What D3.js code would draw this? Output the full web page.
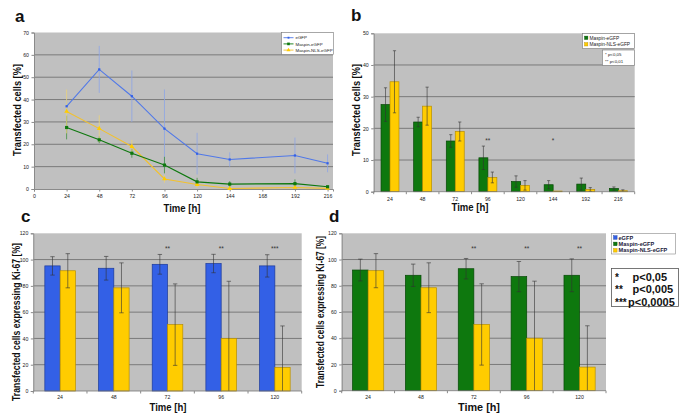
<!DOCTYPE html>
<html><head><meta charset="utf-8">
<script src="https://cdn.jsdelivr.net/npm/d3@7"></script>
<style>body{margin:0;background:#fff}svg{display:block}text{font-family:"Liberation Sans",Arial,sans-serif}</style>
</head><body>
<svg id="c" width="685" height="417"></svg>
<script>
// ---------- data ----------
const timeA = [24, 48, 72, 96, 120, 144, 192, 216];
const egfpA = [37, 53.5, 41.5, 27, 15.8, 13.2, 15, 11.5];
const egfpAErr = [3, 10.5, 11.5, 17.5, 9.3, 3.2, 8, 4];
const maspinA = [27.5, 22, 16, 10.7, 3.2, 2.2, 2.4, 1.0];
const maspinAErr = [5.3, 1.5, 2, 3.7, 1.8, 1.3, 1.9, 0.5];
const nlsA = [34.7, 27, 19, 4.5, 2, 0.2, 0.7, 0.3];
const nlsAErr = [9.8, 6, 3, 1.7, 1.5, 0, 0.6, 0.3];
const xTicksA = [0, 24, 48, 72, 96, 120, 144, 168, 192, 216];
const starsB = ["", "", "", "**", "", "*", "", ""];

const timeK = [24, 48, 72, 96, 120];
const egfpK = [95.2, 93.4, 96.4, 97, 95.2];
const egfpKErr = [7, 9, 7.5, 7, 8.5];
const maspinK = [92, 88, 93, 87, 88];
const maspinKErr = [8.3, 8.5, 7.8, 11.5, 12.5];
const nlsK = [91.5, 78.5, 50.5, 40, 18];
const nlsKErr = [13, 19, 31, 43.5, 31.5];
const starsC = ["", "", "**", "**", "***"];
const starsD = ["", "", "**", "**", "**"];

const seriesNames = ["eGFP", "Maspin-eGFP", "Maspin-NLS-eGFP"];
const pLegendB = ["*  p<0,05", "**  p<0,01"];
const pStars = ["*", "**", "***"];
const pTexts = ["p<0,05", "p<0,005", "p<0,0005"];

// ---------- styles ----------
const C = {
  gray: "#c0c0c0", grid: "#7a7a7a", axis: "#8a8a8a",
  blue: "#3360e6", blueDark: "#1c3a9a", blueLine: "#5078e8", blueErr: "#8da4e6",
  green: "#0e780e", greenDark: "#064806", greenErr: "#3f8f3f",
  yellow: "#ffcc00", yellowDark: "#b89000", yellowLine: "#f2c12e", yellowErr: "#e9d27a",
  text: "#222"
};
const svg = d3.select("#c");

function panelLabel(t, x, y) {
  svg.append("text").attr("x", x).attr("y", y).attr("font-size", 17).attr("font-weight", "bold").attr("fill", "#111").text(t);
}
function title(t, x, y, size, len, rot) {
  const e = svg.append("text").attr("font-size", size).attr("font-weight", "bold").attr("fill", "#111")
    .attr("text-anchor", "middle").attr("textLength", len).attr("lengthAdjust", "spacingAndGlyphs").text(t);
  if (rot) e.attr("transform", `translate(${x},${y}) rotate(-90)`); else e.attr("x", x).attr("y", y);
}

function yAxis(g, y, ticks, x0, x1) {
  g.append("rect").attr("x", x0).attr("y", y.range()[1]).attr("width", x1 - x0).attr("height", y.range()[0] - y.range()[1]).attr("fill", C.gray);
  const top = d3.max(ticks);
  g.selectAll(null).data(ticks.filter(t => t > 0 && t < top)).join("line")
    .attr("x1", x0).attr("x2", x1).attr("y1", d => y(d)).attr("y2", d => y(d))
    .attr("stroke", C.grid).attr("stroke-width", 1);
  const ax = g.append("g").attr("transform", `translate(${x0},0)`)
    .call(d3.axisLeft(y).tickValues(ticks).tickSize(2.5).tickPadding(2.5).tickFormat(d3.format("d")));
  ax.select(".domain").attr("stroke", C.axis);
  ax.selectAll(".tick line").attr("stroke", C.axis);
  ax.selectAll(".tick text").attr("font-size", 5.2).attr("fill", C.text).attr("font-family", "Liberation Sans, Arial");
}

// ---------- panel a ----------
(function () {
  const g = svg.append("g");
  const x = d3.scaleLinear().domain([0, 220]).range([34, 333]);
  const y = d3.scaleLinear().domain([0, 70]).range([189, 32.5]);
  yAxis(g, y, d3.range(0, 71, 10), 34, 333);
  const xa = g.append("g").attr("transform", "translate(0,189)")
    .call(d3.axisBottom(x).tickValues(xTicksA).tickSize(2.5).tickPadding(3));
  xa.select(".domain").attr("stroke", C.axis);
  xa.selectAll(".tick line").attr("stroke", C.axis);
  xa.selectAll(".tick text").attr("font-size", 5.2).attr("fill", C.text);

  const series = [
    { v: egfpA, e: egfpAErr, line: C.blueLine, err: C.blueErr, m: d3.symbolSquare, ms: 5, mc: C.blue },
    { v: maspinA, e: maspinAErr, line: C.green, err: C.greenErr, m: d3.symbolSquare, ms: 10, mc: C.green },
    { v: nlsA, e: nlsAErr, line: C.yellowLine, err: C.yellowErr, m: d3.symbolTriangle, ms: 10, mc: C.yellow }
  ];
  series.forEach(s => {
    timeA.forEach((t, i) => {
      if (!s.e[i]) return;
      g.append("line").attr("x1", x(t)).attr("x2", x(t))
        .attr("y1", y(Math.min(70, s.v[i] + s.e[i]))).attr("y2", y(Math.max(0, s.v[i] - s.e[i])))
        .attr("stroke", s.err).attr("stroke-width", 0.8);
    });
  });
  const line = d3.line().x((d, i) => x(timeA[i])).y(d => y(d));
  series.slice().reverse().forEach(s => {
    g.append("path").attr("d", line(s.v)).attr("fill", "none").attr("stroke", s.line).attr("stroke-width", 1.1);
    g.selectAll(null).data(s.v).join("path")
      .attr("transform", (d, i) => `translate(${x(timeA[i])},${y(d)})`)
      .attr("d", d3.symbol().type(s.m).size(s.ms)).attr("fill", s.mc);
  });
  g.append("rect").attr("x", 281.5).attr("y", 32.5).attr("width", 52).attr("height", 22).attr("fill", "#fff").attr("stroke", "#777").attr("stroke-width", 0.6);
  series.forEach((s, i) => {
    const yy = 37.7 + i * 6.2;
    g.append("line").attr("x1", 283.5).attr("x2", 293.5).attr("y1", yy).attr("y2", yy).attr("stroke", s.line).attr("stroke-width", 0.9);
    g.append("path").attr("transform", `translate(288.5,${yy})`).attr("d", d3.symbol().type(s.m).size(s.ms * 0.7)).attr("fill", s.mc);
    g.append("text").attr("x", 295.5).attr("y", yy + 1.6).attr("font-size", 4.4).attr("fill", C.text).text(seriesNames[i]);
  });
  panelLabel("a", 15, 22);
  title("Transfected cells [%]", 20.5, 110, 11, 92, true);
  title("Time [h]", 182, 212, 10.5, 37, false);
})();

// ---------- generic grouped bar panel ----------
function barPanel(o) {
  const g = svg.append("g");
  const x = d3.scaleBand().domain(o.cats).range([o.x0, o.x1]).paddingInner(o.pad).paddingOuter(o.pad / 2);
  const y = d3.scaleLinear().domain([0, o.ymax]).range([o.yb, o.yt]);
  yAxis(g, y, d3.range(0, o.ymax + 1, o.step), o.x0, o.x1);
  const inner = d3.scaleBand().domain(d3.range(o.series.length)).range([0, x.bandwidth()]);
  o.series.forEach((s, si) => {
    g.selectAll(null).data(s.v).join("rect")
      .attr("x", (d, i) => x(o.cats[i]) + inner(si)).attr("width", inner.bandwidth())
      .attr("y", d => y(d)).attr("height", d => o.yb - y(d))
      .attr("fill", s.fill).attr("stroke", s.stroke).attr("stroke-width", 0.7);
  });
  o.series.forEach((s, si) => {
    s.v.forEach((v, i) => {
      if (!s.e[i]) return;
      const cx = x(o.cats[i]) + inner(si) + inner.bandwidth() / 2;
      const hi = y(Math.min(o.ymax, v + s.e[i])), lo = y(Math.max(0, v - s.e[i]));
      g.append("line").attr("x1", cx).attr("x2", cx).attr("y1", hi).attr("y2", lo).attr("stroke", "#333").attr("stroke-width", 0.6);
      g.append("line").attr("x1", cx - o.cap).attr("x2", cx + o.cap).attr("y1", hi).attr("y2", hi).attr("stroke", "#333").attr("stroke-width", 0.6);
      if (v - s.e[i] > 0)
        g.append("line").attr("x1", cx - o.cap).attr("x2", cx + o.cap).attr("y1", lo).attr("y2", lo).attr("stroke", "#333").attr("stroke-width", 0.6);
    });
  });
  g.append("line").attr("x1", o.x0).attr("x2", o.x1).attr("y1", o.yb).attr("y2", o.yb).attr("stroke", "#777").attr("stroke-width", 0.8);
  const bounds = o.cats.map(c => x(c) - x.step() * o.pad / 2).concat([o.x1]);
  g.selectAll(null).data(bounds).join("line").attr("x1", d => d).attr("x2", d => d)
    .attr("y1", o.yb).attr("y2", o.yb + 2.5).attr("stroke", C.axis);
  g.selectAll(null).data(o.cats).join("text")
    .attr("x", d => x(d) + x.bandwidth() / 2).attr("y", o.yb + o.lab).attr("text-anchor", "middle")
    .attr("font-size", 5.2).attr("fill", C.text).text(d => d);
  g.selectAll(null).data(o.stars).join("text")
    .attr("x", (d, i) => x(o.cats[i]) + x.bandwidth() / 2).attr("y", o.starY).attr("text-anchor", "middle")
    .attr("font-size", 6.5).attr("fill", "#333").text(d => d);
  return g;
}

// ---------- panel b ----------
(function () {
  const g = barPanel({
    cats: timeA, x0: 373.7, x1: 634.7, yb: 191.7, yt: 33.3, ymax: 50, step: 10, pad: 0.45, cap: 1.6, lab: 9.5,
    stars: starsB, starY: 143,
    series: [
      { v: maspinA, e: maspinAErr, fill: C.green, stroke: C.greenDark },
      { v: nlsA, e: nlsAErr, fill: C.yellow, stroke: C.yellowDark }
    ]
  });
  g.append("rect").attr("x", 582.5).attr("y", 33.5).attr("width", 52).attr("height", 15).attr("fill", "#fff").attr("stroke", "#777").attr("stroke-width", 0.6);
  [[C.green, C.greenDark], [C.yellow, C.yellowDark]].forEach((c, i) => {
    const yy = 37.8 + i * 6.5;
    g.append("rect").attr("x", 584.5).attr("y", yy - 1.7).attr("width", 3.4).attr("height", 3.4).attr("fill", c[0]).attr("stroke", c[1]).attr("stroke-width", 0.4);
    g.append("text").attr("x", 589.5).attr("y", yy + 1.7).attr("font-size", 4.8).attr("fill", C.text).text(seriesNames[i + 1]);
  });
  g.append("rect").attr("x", 602.5).attr("y", 50).attr("width", 32).attr("height", 15.5).attr("fill", "#fff").attr("stroke", "#777").attr("stroke-width", 0.6);
  pLegendB.forEach((t, i) => {
    g.append("text").attr("x", 605).attr("y", 56 + i * 6.5).attr("font-size", 4.4).attr("fill", C.text).text(t);
  });
  panelLabel("b", 351, 21);
  title("Transfected cells [%]", 359.5, 110, 11, 92, true);
  title("Time [h]", 470, 211, 10.5, 37, false);
})();

// ---------- panel c ----------
(function () {
  barPanel({
    cats: timeK, x0: 33.3, x1: 301.7, yb: 391, yt: 233.3, ymax: 120, step: 20, pad: 0.43, cap: 2.2, lab: 8,
    stars: starsC, starY: 250.5,
    series: [
      { v: egfpK, e: egfpKErr, fill: C.blue, stroke: C.blueDark },
      { v: nlsK, e: nlsKErr, fill: C.yellow, stroke: C.yellowDark }
    ]
  });
  panelLabel("c", 21, 222);
  title("Transfected cells expressing Ki-67 [%]", 20, 322, 10, 158, true);
  title("Time [h]", 168, 411, 10, 37, false);
})();

// ---------- panel d ----------
(function () {
  const g = barPanel({
    cats: timeK, x0: 341.7, x1: 606, yb: 390.7, yt: 233.3, ymax: 120, step: 20, pad: 0.41, cap: 2.2, lab: 8,
    stars: starsD, starY: 250.5,
    series: [
      { v: maspinK, e: maspinKErr, fill: C.green, stroke: C.greenDark },
      { v: nlsK, e: nlsKErr, fill: C.yellow, stroke: C.yellowDark }
    ]
  });
  g.append("rect").attr("x", 611.5).attr("y", 233.5).attr("width", 64).attr("height", 20.5).attr("fill", "#fff").attr("stroke", "#888").attr("stroke-width", 0.6);
  [[C.blue, C.blueDark], [C.green, C.greenDark], [C.yellow, C.yellowDark]].forEach((c, i) => {
    const yy = 237.5 + i * 6.4;
    g.append("rect").attr("x", 613.5).attr("y", yy - 1.8).attr("width", 3.6).attr("height", 3.6).attr("fill", c[0]).attr("stroke", c[1]).attr("stroke-width", 0.4);
    g.append("text").attr("x", 618.5).attr("y", yy + 2).attr("font-size", 5.6).attr("font-weight", "bold").attr("fill", "#1a1a3a").text(seriesNames[i]);
  });
  g.append("rect").attr("x", 611.5).attr("y", 268.5).attr("width", 67).attr("height", 38).attr("fill", "#fff").attr("stroke", "#555").attr("stroke-width", 0.8);
  pStars.forEach((s, i) => {
    const yy = 281 + i * 12.3;
    g.append("text").attr("x", 615).attr("y", yy).attr("font-size", 10).attr("font-weight", "bold").attr("font-family", "Liberation Serif, serif").attr("fill", "#111").text(s);
    g.append("text").attr("x", i === 2 ? 628 : 632.5).attr("y", yy).attr("font-size", 11).attr("font-weight", "bold").attr("font-family", "Liberation Serif, serif").attr("fill", "#111").text(pTexts[i]);
  });
  panelLabel("d", 329, 222);
  title("Transfected cells expressing Ki-67 [%]", 324, 312, 10, 152, true);
  title("Time [h]", 479, 411, 10, 42, false);
})();
</script>
</body></html>
